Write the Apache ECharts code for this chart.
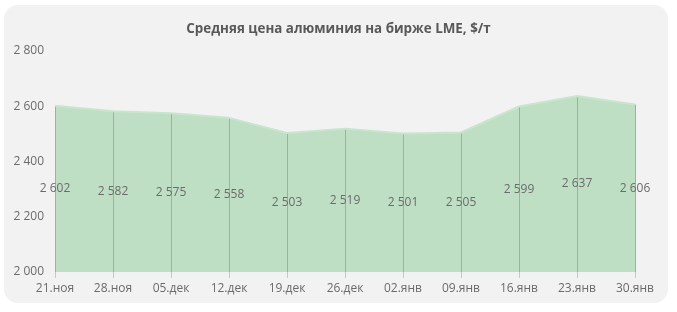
<!DOCTYPE html>
<html>
<head>
<meta charset="utf-8">
<script src="https://cdn.jsdelivr.net/npm/echarts@6/dist/echarts.min.js"></script>
<style>
  html, body { margin: 0; padding: 0; background: #ffffff; }
  #card { position: absolute; left: 4px; top: 5px; width: 664px; height: 298px; background: #f2f2f2; border-radius: 14px; }
  #chart { position: absolute; left: 0; top: 0; width: 677px; height: 312px; }
</style>
</head>
<body>
<div id="card"></div>
<div id="chart"></div>
<script>
  var dates = ['21.ноя', '28.ноя', '05.дек', '12.дек', '19.дек', '26.дек', '02.янв', '09.янв', '16.янв', '23.янв', '30.янв'];
  var prices = [2602, 2582, 2575, 2558, 2503, 2519, 2501, 2505, 2599, 2637, 2606];
  var yMin = 2000, yMax = 2800, yStep = 200;

  function fmt(v) {
    return String(v).replace(/\B(?=(\d{3})+(?!\d))/g, ' ');
  }

  var chart = echarts.init(document.getElementById('chart'));

  chart.setOption({
    animation: false,
    title: {
      text: 'Средняя цена алюминия на бирже LME, $/т',
      left: 'center',
      top: 18,
      textStyle: { fontFamily: 'Open Sans', fontSize: 13.4, fontWeight: 'bold', color: '#595959' }
    },
    grid: { left: 55, right: 42, top: 51, bottom: 40 },
    xAxis: {
      type: 'category',
      data: dates,
      boundaryGap: false,
      axisLine: { show: false },
      axisTick: { show: true, length: 6, lineStyle: { color: '#c8c8c8' } },
      axisLabel: { margin: 11, color: '#6b6b6b', fontFamily: 'Open Sans', fontSize: 12 }
    },
    yAxis: {
      type: 'value',
      min: yMin,
      max: yMax,
      interval: yStep,
      splitLine: { show: false },
      axisLine: { show: false },
      axisTick: { show: false },
      axisLabel: { margin: 11, color: '#6b6b6b', fontFamily: 'Open Sans', fontSize: 12, formatter: fmt }
    },
    series: [
      {
        type: 'line',
        data: prices,
        symbol: 'none',
        lineStyle: { width: 2, color: '#c9e5ce' },
        areaStyle: { color: '#bfdfc5', opacity: 1 }
      },
      {
        type: 'custom',
        data: prices.map(function (v, i) { return [i, v]; }),
        encode: { x: 0, y: 1 },
        z: 3,
        renderItem: function (params, api) {
          var top = api.coord([api.value(0), api.value(1)]);
          var base = api.coord([api.value(0), yMin]);
          var x = Math.round(top[0]) + 0.5;
          return {
            type: 'group',
            children: [
              {
                type: 'line',
                shape: { x1: x, y1: top[1], x2: x, y2: base[1] },
                style: { stroke: '#8cbd90', lineWidth: 1 }
              },
              {
                type: 'text',
                x: top[0],
                y: (top[1] + base[1]) / 2,
                style: {
                  text: fmt(api.value(1)),
                  fill: '#6b6b6b',
                  font: '12px "Open Sans"',
                  align: 'center',
                  verticalAlign: 'middle'
                }
              }
            ]
          };
        }
      }
    ]
  });
</script>
</body>
</html>
